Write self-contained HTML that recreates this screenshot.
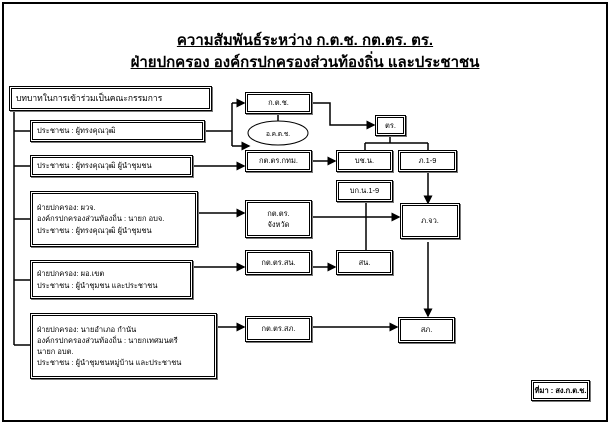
<!DOCTYPE html>
<html><head><meta charset="utf-8"><style>
body{margin:0;width:610px;height:424px;background:#fff;position:relative;overflow:hidden;font-family:"Liberation Sans","Noto Sans CJK SC",sans-serif;}
.frame{position:absolute;left:2px;top:2px;width:602px;height:416px;border:2px solid #000;}
.t{position:absolute;left:0;width:610px;text-align:center;font-weight:bold;font-size:15px;text-decoration:underline;}
.b{position:absolute;box-sizing:border-box;border:3px double #000;background:#fff;box-shadow:1px 1px 0 #777;font-size:7.5px;display:flex;align-items:center;justify-content:center;text-align:center;line-height:1.5;}
.l{justify-content:flex-start;text-align:left;padding-left:4px;}
svg{position:absolute;left:0;top:0;}
</style></head><body>
<div class="frame"></div>
<div class="t" style="top:28px">ความสัมพันธ์ระหว่าง ก.ต.ช. กต.ตร. ตร.</div>
<div class="t" style="top:50px">ฝ่ายปกครอง องค์กรปกครองส่วนท้องถิ่น และประชาชน</div>
<svg width="610" height="424">
<defs><marker id="a" markerWidth="6" markerHeight="6" refX="5" refY="3" orient="auto"><path d="M0,0 L6,3 L0,6z" fill="#000"/></marker></defs>
<g stroke="#000" stroke-width="1.5" fill="none">
<path d="M14 110 V345"/>
<path d="M14 131 H30 M14 166 H30 M14 219 H30 M14 280 H30 M14 345 H30"/>
<path d="M205 131 H232"/>
<path d="M232 103 V146"/>
<path d="M232 103 H244" marker-end="url(#a)"/>
<path d="M232 146 H249" marker-end="url(#a)"/>
<path d="M278 114 V121"/>
<path d="M312 103 H330 V125 H374" marker-end="url(#a)"/>
<path d="M390 136 V143 M365 143 H428 M365 143 V150 M428 143 V150"/>
<path d="M193 166 H244" marker-end="url(#a)"/>
<path d="M312 161 H335" marker-end="url(#a)"/>
<path d="M428 172 V203" marker-end="url(#a)"/>
<path d="M198 213 H244" marker-end="url(#a)"/>
<path d="M312 217 H399" marker-end="url(#a)"/>
<path d="M366 202 V250"/>
<path d="M193 267 H244" marker-end="url(#a)"/>
<path d="M312 267 H335" marker-end="url(#a)"/>
<path d="M428 242 V316" marker-end="url(#a)"/>
<path d="M217 327 H244" marker-end="url(#a)"/>
<path d="M312 327 H397" marker-end="url(#a)"/>
</g>
<ellipse cx="278" cy="133" rx="30" ry="12" fill="#fff" stroke="#000" stroke-width="1"/>
<text x="278" y="136" font-size="6.5" text-anchor="middle" font-family="Liberation Sans,Noto Sans CJK SC,sans-serif">อ.ค.ต.ช.</text>
</svg>
<div class="b l" style="left:9px;top:86px;width:203px;height:25px;font-size:8.5px">บทบาทในการเข้าร่วมเป็นคณะกรรมการ</div>
<div class="b l" style="left:30px;top:120px;width:175px;height:22px">ประชาชน : ผู้ทรงคุณวุฒิ</div>
<div class="b l" style="left:30px;top:155px;width:163px;height:22px">ประชาชน : ผู้ทรงคุณวุฒิ ผู้นำชุมชน</div>
<div class="b l" style="left:30px;top:191px;width:168px;height:56px">ฝ่ายปกครอง: ผวจ.<br>องค์กรปกครองส่วนท้องถิ่น : นายก อบจ.<br>ประชาชน : ผู้ทรงคุณวุฒิ ผู้นำชุมชน</div>
<div class="b l" style="left:30px;top:260px;width:163px;height:39px">ฝ่ายปกครอง: ผอ.เขต<br>ประชาชน : ผู้นำชุมชน และประชาชน</div>
<div class="b l" style="left:30px;top:313px;width:187px;height:66px">ฝ่ายปกครอง: นายอำเภอ กำนัน<br>องค์กรปกครองส่วนท้องถิ่น : นายกเทศมนตรี<br>นายก อบต.<br>ประชาชน : ผู้นำชุมชนหมู่บ้าน และประชาชน</div>
<div class="b" style="left:245px;top:92px;width:67px;height:22px">ก.ต.ช.</div>
<div class="b" style="left:245px;top:150px;width:67px;height:22px">กต.ตร.กทม.</div>
<div class="b" style="left:245px;top:200px;width:67px;height:38px">กต.ตร.<br>จังหวัด</div>
<div class="b" style="left:245px;top:250px;width:67px;height:25px">กต.ตร.สน.</div>
<div class="b" style="left:245px;top:316px;width:67px;height:26px">กต.ตร.สภ.</div>
<div class="b" style="left:375px;top:115px;width:31px;height:21px">ตร.</div>
<div class="b" style="left:336px;top:150px;width:57px;height:22px">บช.น.</div>
<div class="b" style="left:398px;top:150px;width:59px;height:22px">ภ.1-9</div>
<div class="b" style="left:336px;top:180px;width:57px;height:22px">บก.น.1-9</div>
<div class="b" style="left:400px;top:203px;width:60px;height:36px">ภ.จว.</div>
<div class="b" style="left:336px;top:250px;width:57px;height:25px">สน.</div>
<div class="b" style="left:398px;top:317px;width:57px;height:26px">สภ.</div>
<div class="b" style="left:531px;top:380px;width:59px;height:21px;font-weight:bold">ที่มา : สง.ก.ต.ช.</div>
</body></html>
